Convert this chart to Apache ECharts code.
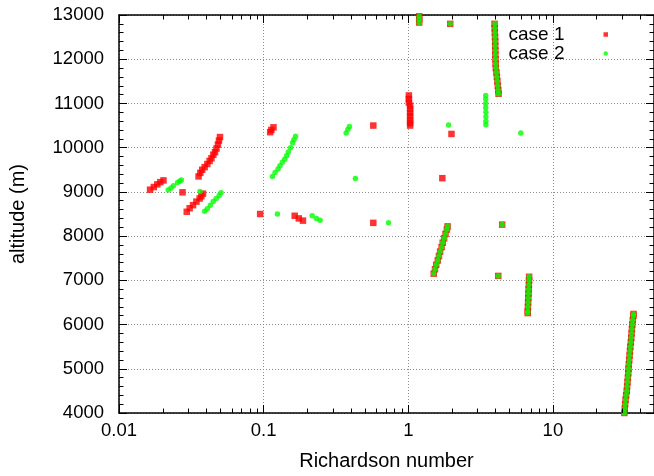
<!DOCTYPE html>
<html>
<head>
<meta charset="utf-8">
<script src="https://cdn.jsdelivr.net/npm/echarts/dist/echarts.min.js"></script>
<style>
  html, body { margin: 0; padding: 0; background: #fff; }
  #chart { width: 654px; height: 476px; }
</style>
</head>
<body>
<div id="chart"></div>
<script>
// Axis ranges and tick values
const xRange = [0.01, 50];
const yRange = [4000, 13000];
const xTickValues = [0.01, 0.1, 1, 10];
const xTickLabels = ['0.01', '0.1', '1', '10'];
const xMinorTicks = [0.02, 0.03, 0.04, 0.05, 0.06, 0.07, 0.08, 0.09,
                     0.2, 0.3, 0.4, 0.5, 0.6, 0.7, 0.8, 0.9,
                     2, 3, 4, 5, 6, 7, 8, 9,
                     20, 30, 40];

// [Richardson number, altitude (m)]
const case1 = [
  [0.0164, 9050], [0.0174, 9110], [0.0184, 9170], [0.0193, 9220], [0.0203, 9260],
  [0.0275, 8990],
  [0.0294, 8550], [0.0308, 8630], [0.0325, 8700], [0.0343, 8780], [0.0361, 8850], [0.0371, 8900], [0.0381, 8960],
  [0.0355, 9350], [0.0365, 9430], [0.0376, 9500], [0.0391, 9560], [0.0408, 9630], [0.0423, 9700],
  [0.0436, 9760], [0.0449, 9840], [0.0461, 9900], [0.0472, 9980], [0.0483, 10070], [0.0491, 10160], [0.0499, 10240],
  [0.0946, 8500],
  [0.111, 10350], [0.113, 10400], [0.117, 10460],
  [0.164, 8460], [0.175, 8400], [0.187, 8350],
  [0.573, 10500], [0.573, 8300],
  [1.01, 11180], [1.01, 11100], [1.01, 11020], [1.03, 10950], [1.03, 10870], [1.03, 10790],
  [1.03, 10710], [1.03, 10630], [1.03, 10560], [1.03, 10500],
  [1.19, 12830], [1.19, 12900], [1.19, 12970],
  [1.95, 12800], [1.99, 10310], [1.72, 9310],
  [1.50, 7150], [1.53, 7250], [1.56, 7350], [1.60, 7450], [1.63, 7550], [1.66, 7650],
  [1.70, 7750], [1.73, 7850], [1.77, 7950], [1.81, 8050], [1.85, 8150], [1.87, 8220],
  [3.95, 12800], [3.96, 12700], [3.97, 12600], [3.98, 12500], [3.99, 12400], [3.99, 12300],
  [4.00, 12200], [4.00, 12100], [4.01, 12000], [4.02, 11900], [4.03, 11800], [4.07, 11700],
  [4.10, 11600], [4.13, 11500], [4.16, 11400], [4.19, 11300], [4.21, 11220],
  [4.46, 8260], [4.19, 7100],
  [6.85, 7080], [6.84, 7000], [6.82, 6900], [6.80, 6800], [6.78, 6700], [6.76, 6600],
  [6.74, 6500], [6.72, 6400], [6.70, 6300], [6.70, 6260],
  [31.2, 4000], [31.4, 4100], [31.6, 4200], [31.8, 4300], [32.1, 4400], [32.4, 4500],
  [32.6, 4600], [32.8, 4700], [33.0, 4800], [33.2, 4900], [33.3, 5000], [33.5, 5100],
  [33.7, 5200], [33.9, 5300], [34.1, 5400], [34.3, 5500], [34.6, 5600], [34.8, 5700],
  [35.0, 5800], [35.2, 5900], [35.4, 6000], [35.7, 6100], [36.0, 6200], [36.1, 6240]
];

const case2 = [
  [0.0219, 9040], [0.0229, 9090], [0.0238, 9140], [0.0254, 9210], [0.0263, 9240], [0.0270, 9270],
  [0.0363, 9010],
  [0.0391, 8560], [0.0408, 8620], [0.0428, 8700], [0.0448, 8780], [0.0470, 8850], [0.0493, 8920], [0.0508, 8980],
  [0.115, 9350], [0.120, 9440], [0.1257, 9520], [0.1297, 9590], [0.1348, 9670], [0.1398, 9740],
  [0.1442, 9820], [0.1481, 9900], [0.1536, 10000], [0.1586, 10110], [0.1619, 10180], [0.1663, 10260],
  [0.1245, 8500],
  [0.2165, 8460], [0.2317, 8400], [0.2456, 8360],
  [0.372, 10330], [0.382, 10410], [0.392, 10480],
  [0.431, 9300], [0.730, 8300],
  [1.19, 12830], [1.19, 12900], [1.19, 12970],
  [1.95, 12800], [1.90, 10510],
  [3.43, 11180], [3.43, 11100], [3.43, 11000], [3.43, 10900], [3.44, 10800], [3.44, 10700],
  [3.44, 10600], [3.44, 10520],
  [6.00, 10330],
  [1.50, 7150], [1.53, 7250], [1.56, 7350], [1.60, 7450], [1.63, 7550], [1.66, 7650],
  [1.70, 7750], [1.73, 7850], [1.77, 7950], [1.81, 8050], [1.85, 8150], [1.87, 8220],
  [3.97, 12800], [3.97, 12700], [3.98, 12600], [3.98, 12500], [3.99, 12400], [3.99, 12300],
  [4.00, 12200], [4.00, 12100], [4.01, 12000], [4.02, 11900], [4.04, 11800], [4.07, 11700],
  [4.10, 11600], [4.13, 11500], [4.16, 11400], [4.18, 11300], [4.20, 11220],
  [4.46, 8260], [4.19, 7100],
  [6.85, 7080], [6.84, 7000], [6.82, 6900], [6.80, 6800], [6.78, 6700], [6.76, 6600],
  [6.74, 6500], [6.72, 6400], [6.70, 6300], [6.70, 6260],
  [31.2, 4000], [31.4, 4100], [31.6, 4200], [31.8, 4300], [32.1, 4400], [32.4, 4500],
  [32.6, 4600], [32.8, 4700], [33.0, 4800], [33.2, 4900], [33.3, 5000], [33.5, 5100],
  [33.7, 5200], [33.9, 5300], [34.1, 5400], [34.3, 5500], [34.6, 5600], [34.8, 5700],
  [35.0, 5800], [35.2, 5900], [35.4, 6000], [35.7, 6100], [36.0, 6200], [36.1, 6240]
];

const FONT = '"Liberation Sans", Arial, Helvetica, sans-serif';
const BLACK = '#000';
const gridLine = { show: true, lineStyle: { color: '#8c8c8c', width: 1, type: [1, 2] } };
const axisLine = { show: true, onZero: false, lineStyle: { color: BLACK, width: 1.5 } };

function xLabel(v) {
  for (let i = 0; i < xTickValues.length; i++) {
    if (Math.abs(Math.log10(v) - Math.log10(xTickValues[i])) < 1e-6) return xTickLabels[i];
  }
  return '';
}

const chart = echarts.init(document.getElementById('chart'), null, { renderer: 'canvas' });

chart.setOption({
  animation: false,
  backgroundColor: '#fff',
  textStyle: { fontFamily: FONT },
  grid: { left: 117, top: 15, width: 539, height: 405, containLabel: false },
  legend: {
    data: [{ name: 'case 1', icon: 'rect' }, { name: 'case 2', icon: 'circle' }],
    orient: 'vertical',
    align: 'right',
    right: 46,
    top: 25,
    padding: 0,
    itemWidth: 4.5,
    itemHeight: 4.5,
    itemGap: 0,
    selectedMode: false,
    textStyle: { fontFamily: FONT, fontSize: 19, color: BLACK, padding: [0, 34, 0, 0] }
  },
  xAxis: [
    {
      type: 'log', logBase: 10, min: xRange[0], max: xRange[1], position: 'bottom',
      name: 'Richardson number', nameLocation: 'middle', nameGap: 38,
      nameTextStyle: { fontFamily: FONT, fontSize: 20, color: BLACK },
      axisLine: axisLine,
      axisTick: { show: true, inside: true, length: 8, lineStyle: { color: BLACK, width: 1 } },
      axisLabel: { fontFamily: FONT, fontSize: 18.5, color: BLACK, margin: 8, formatter: xLabel,
                   showMaxLabel: false },
      splitLine: gridLine
    },
    {
      type: 'log', logBase: 10, min: xRange[0], max: xRange[1], position: 'top',
      axisLine: axisLine,
      axisTick: { show: true, inside: true, length: 8, lineStyle: { color: BLACK, width: 1 } },
      axisLabel: { show: false },
      splitLine: { show: false }
    }
  ],
  yAxis: [
    {
      type: 'value', min: yRange[0], max: yRange[1], interval: 1000, position: 'left',
      name: 'altitude (m)', nameLocation: 'middle', nameGap: 91, nameRotate: 90,
      nameTextStyle: { fontFamily: FONT, fontSize: 20, color: BLACK },
      axisLine: axisLine,
      axisTick: { show: true, inside: true, length: 8, lineStyle: { color: BLACK, width: 1 } },
      minorTick: { show: true, splitNumber: 5, length: 4.5, lineStyle: { color: BLACK, width: 1 } },
      axisLabel: { fontFamily: FONT, fontSize: 18.5, color: BLACK, margin: 15,
                   formatter: v => String(v) },
      splitLine: gridLine
    },
    {
      type: 'value', min: yRange[0], max: yRange[1], interval: 1000, position: 'right',
      axisLine: axisLine,
      axisTick: { show: true, inside: true, length: 8, lineStyle: { color: BLACK, width: 1 } },
      minorTick: { show: true, splitNumber: 5, length: 4.5, lineStyle: { color: BLACK, width: 1 } },
      axisLabel: { show: false },
      splitLine: { show: false }
    }
  ],
  series: [
    {
      name: 'case 1', type: 'scatter', xAxisIndex: 0, yAxisIndex: 0,
      symbol: 'rect', symbolSize: 6.5,
      itemStyle: { color: '#ff0000' },
      data: case1, z: 3
    },
    {
      name: 'case 2', type: 'scatter', xAxisIndex: 0, yAxisIndex: 0,
      symbol: 'circle', symbolSize: 5.5,
      itemStyle: { color: '#00ff00' },
      data: case2, z: 4
    },
    {
      // logarithmic minor ticks on the bottom and top borders
      name: 'minor ticks', type: 'custom', xAxisIndex: 0, yAxisIndex: 0,
      silent: true, clip: false, z: 10,
      data: xMinorTicks.map(v => [v, yRange[0]]),
      renderItem: function (params, api) {
        const x = Math.round(api.coord([api.value(0), yRange[0]])[0]) + 0.5;
        const cs = params.coordSys;
        const style = { stroke: BLACK, lineWidth: 1 };
        return {
          type: 'group',
          children: [
            { type: 'line', shape: { x1: x, y1: cs.y + cs.height, x2: x, y2: cs.y + cs.height - 4.5 }, style: style },
            { type: 'line', shape: { x1: x, y1: cs.y, x2: x, y2: cs.y + 4.5 }, style: style }
          ]
        };
      }
    }
  ]
});
</script>
</body>
</html>
